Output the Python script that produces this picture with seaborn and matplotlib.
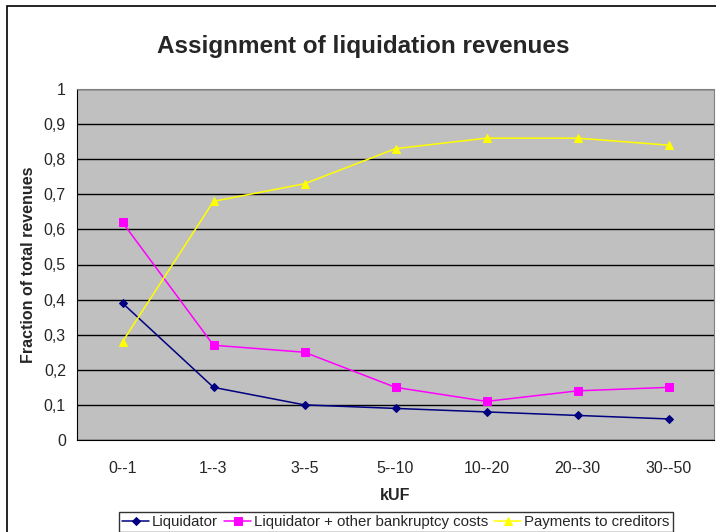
import pandas as pd
import seaborn as sns
import matplotlib.pyplot as plt
from matplotlib.patches import Rectangle

# dados
categorias = ["0--1", "1--3", "3--5", "5--10", "10--20", "20--30", "30--50"]
liquidator = [0.39, 0.15, 0.10, 0.09, 0.08, 0.07, 0.06]
liquidator_other = [0.62, 0.27, 0.25, 0.15, 0.11, 0.14, 0.15]
payments = [0.28, 0.68, 0.73, 0.83, 0.86, 0.86, 0.84]
series_names = ["Liquidator", "Liquidator + other bankruptcy costs", "Payments to creditors"]
yticks = [0, 0.1, 0.2, 0.3, 0.4, 0.5, 0.6, 0.7, 0.8, 0.9, 1.0]
ytick_labels = ["0", "0,1", "0,2", "0,3", "0,4", "0,5", "0,6", "0,7", "0,8", "0,9", "1"]

df = pd.DataFrame({
    "kUF": categorias * 3,
    "valor": liquidator + liquidator_other + payments,
    "serie": [s for s in series_names for _ in categorias],
})

sns.set_style("white")
plt.rcParams['font.family'] = ['Liberation Sans', 'DejaVu Sans']

fig = plt.figure(figsize=(7.16, 5.32), dpi=100)
ax = fig.add_axes([77/716, 1 - 440/532, (714-77)/716, (440-89)/532])
ax.set_facecolor("#C0C0C0")

cores = ["#000080", "#FF00FF", "#FFFF00"]
marcadores = ["D", "s", "^"]
tamanhos = [4, 6, 6]
for nome, cor, m, t in zip(series_names, cores, marcadores, tamanhos):
    sns.lineplot(data=df[df["serie"] == nome], x="kUF", y="valor", ax=ax,
                 color=cor, marker=m, markersize=t, markeredgecolor=cor,
                 linewidth=1.1, label=nome, sort=False)

ax.set_xlim(-0.5, len(categorias) - 0.5)
ax.set_ylim(0, 1)
ax.set_yticks(yticks)
ax.set_yticklabels(ytick_labels, fontsize=11.5)
ax.set_xticks(range(len(categorias)))
ax.set_xticklabels(categorias, fontsize=11.5)
ax.set_xticks([i - 0.5 for i in range(len(categorias) + 1)], minor=True)
ax.tick_params(axis="x", which="major", length=0, pad=15)
ax.tick_params(axis="x", which="minor", length=5, color="black", direction="out")
ax.tick_params(axis="y", length=5, color="black", direction="out", pad=3)
ax.yaxis.grid(True, color="black", linewidth=1)
ax.set_axisbelow(True)

for lado in ["top", "right"]:
    ax.spines[lado].set_color("#808080")
for lado in ["left", "bottom"]:
    ax.spines[lado].set_color("black")

ax.set_xlabel("kUF", fontsize=11.5, fontweight="bold", labelpad=9)
ax.set_ylabel("Fraction of total revenues", fontsize=11.5, fontweight="bold")
ax.yaxis.set_label_coords((36 - 77) / (714 - 77), 0.5)
fig.text(363/716, 1 - 46/532, "Assignment of liquidation revenues",
         fontsize=17.5, fontweight="bold", ha="center", va="center")

h, l = ax.get_legend_handles_labels()
ax.get_legend().remove()
leg = fig.legend(h, l, loc="lower center", bbox_to_anchor=(396/716, 0), ncol=3,
                 fontsize=10.8, frameon=True, fancybox=False, edgecolor="black",
                 borderpad=0.2, handlelength=1.8, handletextpad=0.2, columnspacing=0.4,
                 borderaxespad=0)
leg.get_frame().set_linewidth(1)

# moldura externa do grafico
fig.patches.append(Rectangle((7/716, -0.1), 1.2, 1 - 6/532 + 0.1, transform=fig.transFigure,
                             fill=False, edgecolor="black", linewidth=1.2))

fig.savefig("out.png", dpi=100)
